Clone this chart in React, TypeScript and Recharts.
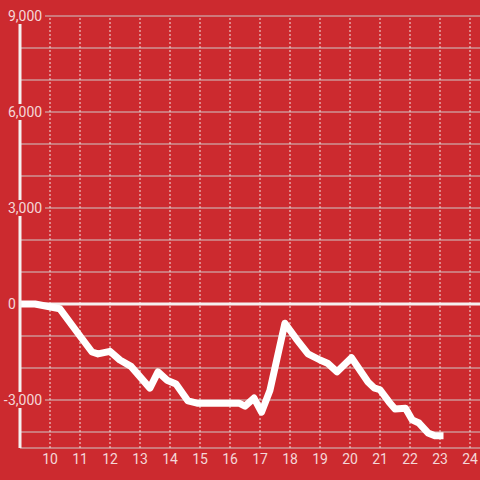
import React from "react";
import {
  LineChart, Line, XAxis, YAxis, CartesianGrid, ReferenceLine,
} from "recharts";

const HOURS = [
  9, 9.5, 10.33, 11.0, 11.4, 11.6, 12.0, 12.33, 12.7, 13.33, 13.6, 13.9, 14.2, 14.6, 14.9,
  16.3, 16.5, 16.8, 17.05, 17.33, 17.83, 18.2, 18.6, 19.0, 19.25, 19.57, 20.05, 20.6, 20.8,
  21.0, 21.3, 21.5, 21.85, 22.07, 22.3, 22.6, 22.83, 23.0,
];
const BALANCE = [
  0, 0, -150, -1000, -1500, -1560, -1480, -1750, -1950, -2630, -2120, -2380, -2500, -3030, -3100,
  -3100, -3190, -2940, -3380, -2700, -600, -1080, -1560, -1750, -1850, -2120, -1680, -2440, -2620,
  -2680, -3060, -3280, -3260, -3620, -3720, -4030, -4120, -4120,
];
const X_TICKS = [10, 11, 12, 13, 14, 15, 16, 17, 18, 19, 20, 21, 22, 23, 24];
const Y_TICKS = [-4000, -3000, -2000, -1000, 0, 1000, 2000, 3000, 4000, 5000, 6000, 7000, 8000, 9000];
const Y_LABELED = [-3000, 0, 3000, 6000, 9000];

const BG = "#cc2a2f";
const TEXT = "rgba(255,255,255,0.82)";
const FONT = "Roboto";

const data = HOURS.map((h, i) => ({ h, v: BALANCE[i] }));

function YTick(props: any) {
  const { y, payload } = props;
  if (!Y_LABELED.includes(payload.value)) return null;
  const label = Math.abs(payload.value).toLocaleString("en-US");
  const neg = payload.value < 0;
  const digits = label.replace(/,/g, "").length;
  const commas = label.length - digits;
  const w = digits * 8 + commas * 4 + 2;
  return (
    <g>
      <rect x={neg ? 1 : 7} y={y - 8} width={w + (neg ? 6 : 0)} height={16} fill={BG} />
      {neg && (
        <text x={7.5} y={y} dy={5} textAnchor="end" fill={TEXT} fontSize={14} fontFamily={FONT}>-</text>
      )}
      <text x={8} y={y} dy={5} textAnchor="start" fill={TEXT} fontSize={14} fontFamily={FONT}>
        {label}
      </text>
    </g>
  );
}

export default function App() {
  return (
    <div style={{ position: "absolute", left: 0, top: 0, width: 480, height: 480, background: BG, overflow: "hidden" }}>
      <LineChart width={480} height={480} data={data} margin={{ top: 16, right: 0, bottom: 0, left: 0 }}>
        <CartesianGrid vertical={false} stroke="#cfc8c8" strokeWidth={1} />
        {X_TICKS.map(t => (
          <ReferenceLine key={t} x={t} stroke="#f3e4e4" strokeDasharray="2 2" strokeWidth={1} />
        ))}
        <ReferenceLine y={0} stroke="#f5f0f0" strokeWidth={3} />
        <XAxis
          dataKey="h" type="number" domain={[9, 24.333]} ticks={X_TICKS} allowDataOverflow
          axisLine={false} tickLine={false} height={32}
          tick={{ fill: TEXT, fontSize: 14, fontFamily: FONT }} tickMargin={0}
        />
        <YAxis
          type="number" domain={[-4500, 9000]} ticks={Y_TICKS} allowDataOverflow
          width={20} axisLine={{ stroke: "#f5f0f0", strokeWidth: 3 }} tickLine={false}
          tick={<YTick />} interval={0}
        />
        <Line
          dataKey="v" type="linear" stroke="#ffffff" strokeWidth={7} dot={false}
          strokeLinejoin="round" strokeLinecap="square" isAnimationActive={false}
        />
      </LineChart>
    </div>
  );
}
